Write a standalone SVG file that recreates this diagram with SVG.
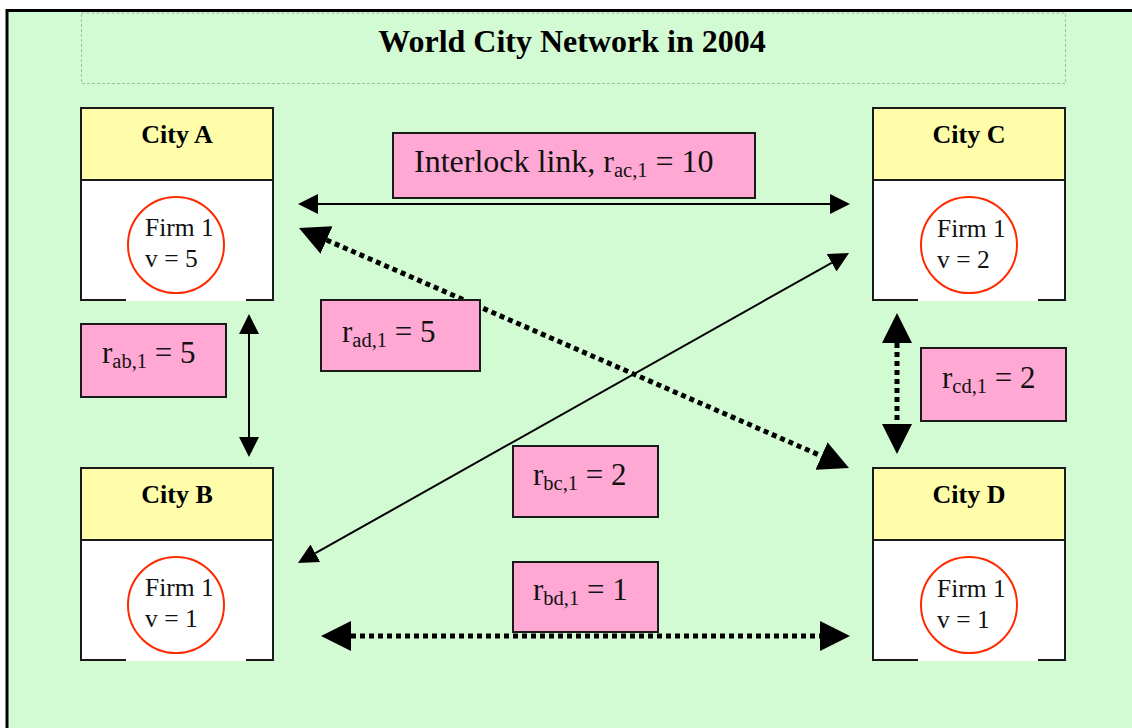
<svg xmlns="http://www.w3.org/2000/svg" width="1132" height="728" viewBox="0 0 1132 728">
  <style>
    .frame { fill: #D3FBD3; stroke: #000; stroke-width: 3; }
    .titlebox { fill: none; stroke: #A8B8A8; stroke-width: 1; stroke-dasharray: 3 2; }
    .title { font-family: "Liberation Serif", "Times New Roman", serif; font-weight: bold; font-size: 32px; fill: #000; }
    .head { fill: #FFFDAA; stroke: #1a1a1a; stroke-width: 2; }
    .body { fill: #FFFFFF; stroke: #1a1a1a; stroke-width: 2; }
    .gap { stroke: #FFFFFF; stroke-width: 2.2; }
    .city { font-family: "Liberation Serif", "Times New Roman", serif; font-weight: bold; font-size: 26px; fill: #000; text-anchor: middle; }
    .firm { fill: none; stroke: #FF2A00; stroke-width: 2; }
    .ftxt { font-family: "Liberation Serif", "Times New Roman", serif; font-size: 25.5px; fill: #111; }
    .lblbox { fill: #FFA8D4; stroke: #1a1a1a; stroke-width: 2; }
    .lbl { font-family: "Liberation Serif", "Times New Roman", serif; font-size: 31px; fill: #111; }
    .big { font-size: 32px; }
    .sub { font-size: 20.5px; }
    .thin { stroke: #000; stroke-width: 2; fill: none; }
    .dots { stroke: #000; stroke-width: 5; fill: none; stroke-dasharray: 5 4; }
  </style>
  <defs>
    <marker id="head-sm" markerUnits="userSpaceOnUse" markerWidth="20" markerHeight="20" refX="0" refY="10" orient="auto-start-reverse">
      <path d="M0,0 L20,10 L0,20 z" fill="#000"/>
    </marker>
    <marker id="head-lg" markerUnits="userSpaceOnUse" markerWidth="30" markerHeight="30" refX="0" refY="15" orient="auto-start-reverse">
      <path d="M0,0 L30,15 L0,30 z" fill="#000"/>
    </marker>
  </defs>

  <!-- page background and frame -->
  <rect x="0" y="0" width="1132" height="728" fill="#FFFFFF"/>
  <rect class="frame" x="7" y="10.5" width="1135" height="730"/>

  <!-- title -->
  <g id="title">
    <rect class="titlebox" x="81.5" y="13" width="984" height="70.5"/>
    <text class="title" x="572" y="52" text-anchor="middle">World City Network in 2004</text>
  </g>

  <!-- connectors -->
  <g id="connectors">
    <line id="link-ac" class="thin" x1="318" y1="204" x2="830" y2="204" marker-start="url(#head-sm)" marker-end="url(#head-sm)"/>
    <line id="link-ab" class="thin" x1="249" y1="334" x2="249" y2="437" marker-start="url(#head-sm)" marker-end="url(#head-sm)"/>
    <line id="link-bc" class="thin" x1="315.4" y1="553.2" x2="831.6" y2="262.8" marker-start="url(#head-sm)" marker-end="url(#head-sm)"/>
    <line id="link-ad" class="dots" x1="326.5" y1="240" x2="821.5" y2="456" marker-start="url(#head-lg)" marker-end="url(#head-lg)"/>
    <line id="link-cd" class="dots" x1="897" y1="343" x2="897" y2="424" marker-start="url(#head-lg)" marker-end="url(#head-lg)"/>
    <line id="link-bd" class="dots" x1="351" y1="636" x2="820" y2="636" marker-start="url(#head-lg)" marker-end="url(#head-lg)"/>
  </g>

  <!-- cities -->
  <g id="city-a">
    <rect class="head" x="81" y="108" width="192" height="72"/>
    <rect class="body" x="81" y="180" width="192" height="120"/>
    <line class="gap" x1="126" y1="300" x2="246" y2="300"/>
    <text class="city" x="177" y="143">City A</text>
    <circle class="firm" cx="176" cy="245" r="48"/>
    <text class="ftxt" x="145" y="236">Firm 1</text>
    <text class="ftxt" x="145" y="267">v = 5</text>
  </g>
  <g id="city-c">
    <rect class="head" x="873" y="108" width="192" height="72"/>
    <rect class="body" x="873" y="180" width="192" height="120"/>
    <line class="gap" x1="918" y1="300" x2="1038" y2="300"/>
    <text class="city" x="969" y="143">City C</text>
    <circle class="firm" cx="969" cy="245" r="48"/>
    <text class="ftxt" x="937" y="237">Firm 1</text>
    <text class="ftxt" x="937" y="268">v = 2</text>
  </g>
  <g id="city-b">
    <rect class="head" x="81" y="468" width="192" height="72"/>
    <rect class="body" x="81" y="540" width="192" height="120"/>
    <line class="gap" x1="126" y1="660" x2="246" y2="660"/>
    <text class="city" x="177" y="503">City B</text>
    <circle class="firm" cx="176" cy="605" r="48"/>
    <text class="ftxt" x="145" y="596">Firm 1</text>
    <text class="ftxt" x="145" y="627">v = 1</text>
  </g>
  <g id="city-d">
    <rect class="head" x="873" y="468" width="192" height="72"/>
    <rect class="body" x="873" y="540" width="192" height="120"/>
    <line class="gap" x1="918" y1="660" x2="1038" y2="660"/>
    <text class="city" x="969" y="503">City D</text>
    <circle class="firm" cx="969" cy="605" r="48"/>
    <text class="ftxt" x="937" y="597">Firm 1</text>
    <text class="ftxt" x="937" y="628">v = 1</text>
  </g>

  <!-- link labels -->
  <g id="label-ac">
    <rect class="lblbox" x="393" y="133" width="362" height="65"/>
    <text class="lbl big" x="414" y="172">Interlock link, r<tspan class="sub" dy="5">ac,1</tspan><tspan dy="-5"> = 10</tspan></text>
  </g>
  <g id="label-ab">
    <rect class="lblbox" x="81" y="324" width="145" height="73"/>
    <text class="lbl" x="102" y="363">r<tspan class="sub" dy="5">ab,1</tspan><tspan dy="-5"> = 5</tspan></text>
  </g>
  <g id="label-ad">
    <rect class="lblbox" x="321" y="300" width="159" height="71"/>
    <text class="lbl" x="342" y="342">r<tspan class="sub" dy="5">ad,1</tspan><tspan dy="-5"> = 5</tspan></text>
  </g>
  <g id="label-cd">
    <rect class="lblbox" x="921" y="348" width="145" height="73"/>
    <text class="lbl" x="942" y="388">r<tspan class="sub" dy="5">cd,1</tspan><tspan dy="-5"> = 2</tspan></text>
  </g>
  <g id="label-bc">
    <rect class="lblbox" x="513" y="446" width="145" height="71"/>
    <text class="lbl" x="533" y="485">r<tspan class="sub" dy="5">bc,1</tspan><tspan dy="-5"> = 2</tspan></text>
  </g>
  <g id="label-bd">
    <rect class="lblbox" x="513" y="562" width="145" height="70"/>
    <text class="lbl" x="533" y="600">r<tspan class="sub" dy="5">bd,1</tspan><tspan dy="-5"> = 1</tspan></text>
  </g>
</svg>
